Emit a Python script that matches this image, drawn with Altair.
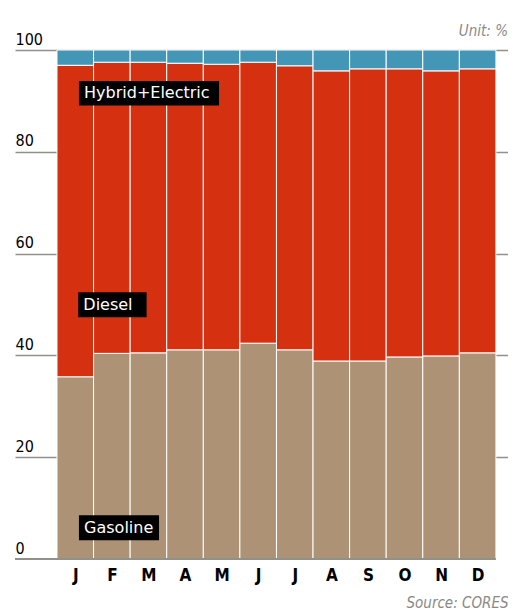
import altair as alt
import pandas as pd

months = ["J", "F", "M", "A", "M", "J", "J", "A", "S", "O", "N", "D"]
gasoline = [35.8, 40.4, 40.5, 41.1, 41.1, 42.4, 41.1, 38.9, 38.9, 39.7, 39.9, 40.5]
diesel = [61.2, 57.2, 57.1, 56.3, 56.1, 55.2, 55.8, 57.0, 57.4, 56.6, 56.0, 55.8]
hybrid = [round(100 - g - d, 1) for g, d in zip(gasoline, diesel)]

fuels = ["Gasoline", "Diesel", "Hybrid+Electric"]
colors = ["#ad9275", "#d5300f", "#4396b6"]

label_names = ["Hybrid+Electric", "Diesel", "Gasoline"]
label_x0 = [0.6, 0.58, 0.6]
label_x1 = [4.43, 2.45, 2.79]
label_y0 = [89.1, 47.5, 3.7]
label_y1 = [93.9, 52.4, 8.6]

rows = []
for i, m in enumerate(months):
    base = 0.0
    for f, v in zip(fuels, [gasoline[i], diesel[i], hybrid[i]]):
        rows.append({"i": i, "x0": i, "x1": i + 1, "month": m, "fuel": f,
                     "y0": base, "y1": base + v, "value": v})
        base += v
df = pd.DataFrame(rows)

labels = pd.DataFrame({"label": label_names, "x0": label_x0, "x1": label_x1,
                       "y0": label_y0, "y1": label_y1})
labels["xt"] = labels["x0"] + 0.14
labels["yt"] = (labels["y0"] + labels["y1"]) / 2

FONT = "DejaVu Sans Condensed"
xdom = [-1.148, 12.33]
label_expr = "[" + ",".join("'%s'" % m for m in months) + "][floor(datum.value)]"

xscale = alt.Scale(domain=xdom, nice=False, zero=False)
yscale = alt.Scale(domain=[0, 100], nice=False)

bars = alt.Chart(df).mark_rect(stroke="white", strokeWidth=1).encode(
    x=alt.X("x0:Q", scale=xscale,
            axis=alt.Axis(values=[i + 0.5 for i in range(12)], labelExpr=label_expr,
                          domain=False, ticks=False, grid=False, labelPadding=8,
                          labelFont=FONT, labelFontSize=17, labelColor="#000000",
                          labelFontWeight="bold",
                          title="Source: CORES", titleAnchor="end", titleFont=FONT,
                          titleFontStyle="italic", titleFontWeight="normal",
                          titleFontSize=15, titleColor="#8a8a85", titlePadding=12)),
    x2="x1:Q",
    y=alt.Y("y0:Q", scale=yscale,
            axis=alt.Axis(values=[0, 20, 40, 60, 80, 100], domain=False, ticks=False,
                          tickSize=0, labelPadding=0, labelAlign="left",
                          labelBaseline="alphabetic", labelOffset=-6,
                          labelFont=FONT, labelFontSize=16, labelColor="#000000",
                          gridColor=alt.condition("datum.value == 0",
                                                  alt.value("transparent"),
                                                  alt.value("#8f918b")),
                          gridWidth=1.5, title=None)),
    y2="y1:Q",
    color=alt.Color("fuel:N", scale=alt.Scale(domain=fuels, range=colors), legend=None),
)

baseline = alt.Chart(pd.DataFrame({"a": [xdom[0]], "b": [12.0], "y": [0]})).mark_rule(
    color="#8f918b", strokeWidth=2).encode(x="a:Q", x2="b:Q", y="y:Q")

boxes = alt.Chart(labels).mark_rect(color="#000000").encode(
    x="x0:Q", x2="x1:Q", y="y0:Q", y2="y1:Q")

texts = alt.Chart(labels).mark_text(align="left", baseline="middle", color="#ffffff",
                                    font="DejaVu Sans", fontSize=16).encode(
    x="xt:Q", y="yt:Q", text="label:N")

chart = alt.layer(bars, baseline, boxes, texts).properties(
    width=493, height=509,
    title=alt.TitleParams("Unit: %", anchor="end", font=FONT, fontSize=15,
                          fontStyle="italic", fontWeight="normal", color="#8a8a85",
                          offset=-8),
    autosize=alt.AutoSizeParams(type="none"),
    padding={"left": 7, "top": 42, "right": 0, "bottom": 52},
).configure_view(stroke=None)

chart.save("out.html", embed_options={"renderer": "svg", "actions": False})
